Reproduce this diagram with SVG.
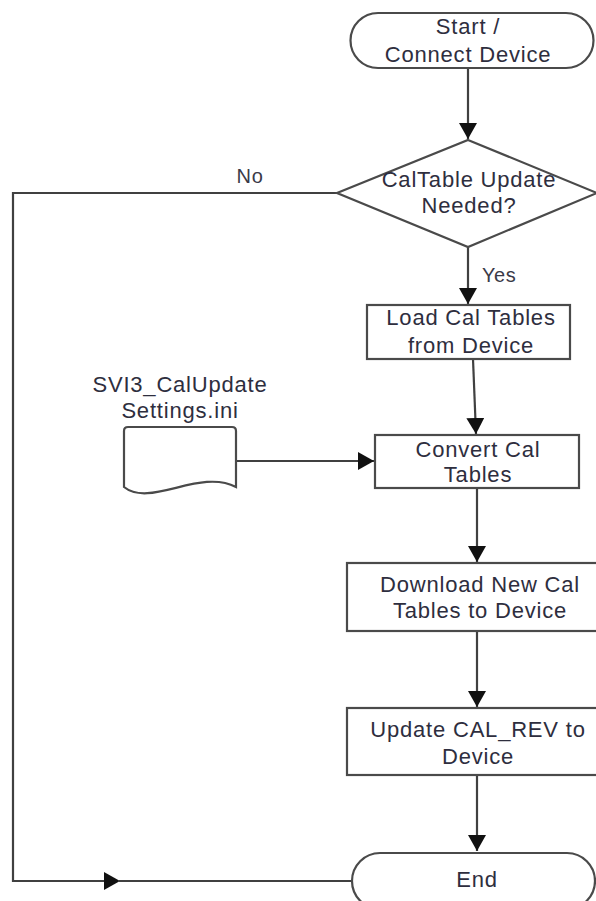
<svg xmlns="http://www.w3.org/2000/svg" width="596" height="901" viewBox="0 0 596 901">
  <style>
    .shape { fill: #ffffff; stroke: #4a4a4a; stroke-width: 2.2; }
    .conn { fill: none; stroke: #404040; stroke-width: 2.2; }
    .txt { font-family: "Liberation Sans", Arial, sans-serif; font-size: 22px; letter-spacing: 0.8px; fill: #2e2e3e; text-anchor: middle; }
    .lbl { font-family: "Liberation Sans", Arial, sans-serif; font-size: 20px; letter-spacing: 0.6px; fill: #3a3a48; }
  </style>
  <defs>
    <marker id="arrow" viewBox="0 0 16 18" refX="16" refY="9" markerWidth="16" markerHeight="18" markerUnits="userSpaceOnUse" orient="auto">
      <path d="M0,0 L16,9 L0,18 Z" fill="#111111"/>
    </marker>
  </defs>
  <rect width="596" height="901" fill="#ffffff"/>

  <g id="connectors">
    <line class="conn" x1="468" y1="68" x2="468" y2="139" marker-end="url(#arrow)"/>
    <line class="conn" x1="468" y1="247" x2="468" y2="304" marker-end="url(#arrow)"/>
    <line class="conn" x1="473" y1="359" x2="476" y2="434" marker-end="url(#arrow)"/>
    <line class="conn" x1="236" y1="461" x2="374" y2="461" marker-end="url(#arrow)"/>
    <line class="conn" x1="477" y1="488" x2="477" y2="562" marker-end="url(#arrow)"/>
    <line class="conn" x1="477" y1="631" x2="477" y2="707" marker-end="url(#arrow)"/>
    <line class="conn" x1="477" y1="775" x2="477" y2="851" marker-end="url(#arrow)"/>
    <polyline class="conn" points="337,193 13,193 13,881 120,881" marker-end="url(#arrow)"/>
    <line class="conn" x1="118" y1="881" x2="352" y2="881"/>
    <text class="lbl" x="250" y="183" text-anchor="middle">No</text>
    <text class="lbl" x="482" y="282">Yes</text>
  </g>

  <g id="start">
    <rect class="shape" x="350.5" y="13" width="243" height="55" rx="27.5" ry="27.5"/>
    <text class="txt" x="468" y="34">Start /</text>
    <text class="txt" x="468" y="62">Connect Device</text>
  </g>

  <g id="decision">
    <polygon class="shape" points="468,140 597,193 468,247 337,193"/>
    <text class="txt" x="469" y="187">CalTable Update</text>
    <text class="txt" x="469" y="213">Needed?</text>
  </g>

  <g id="load">
    <rect class="shape" x="367" y="305" width="203" height="54"/>
    <text class="txt" x="471" y="325">Load Cal Tables</text>
    <text class="txt" x="471" y="353">from Device</text>
  </g>

  <g id="settings-file">
    <text class="txt" x="180" y="392">SVI3_CalUpdate</text>
    <text class="txt" x="180" y="418">Settings.ini</text>
    <path class="shape" d="M124,431 Q124,427 128,427 L232,427 Q236,427 236,431 L236,487 C200,468 150,508 124,487 Z"/>
  </g>

  <g id="convert">
    <rect class="shape" x="375" y="435" width="204" height="53"/>
    <text class="txt" x="478" y="457">Convert Cal</text>
    <text class="txt" x="478" y="482">Tables</text>
  </g>

  <g id="download">
    <rect class="shape" x="347" y="563" width="262" height="68"/>
    <text class="txt" x="480" y="592">Download New Cal</text>
    <text class="txt" x="480" y="618">Tables to Device</text>
  </g>

  <g id="update">
    <rect class="shape" x="347" y="708" width="262" height="67"/>
    <text class="txt" x="478" y="737">Update CAL_REV to</text>
    <text class="txt" x="478" y="764">Device</text>
  </g>

  <g id="end">
    <rect class="shape" x="352" y="853" width="243" height="56" rx="28" ry="28"/>
    <text class="txt" x="477" y="887">End</text>
  </g>
</svg>
